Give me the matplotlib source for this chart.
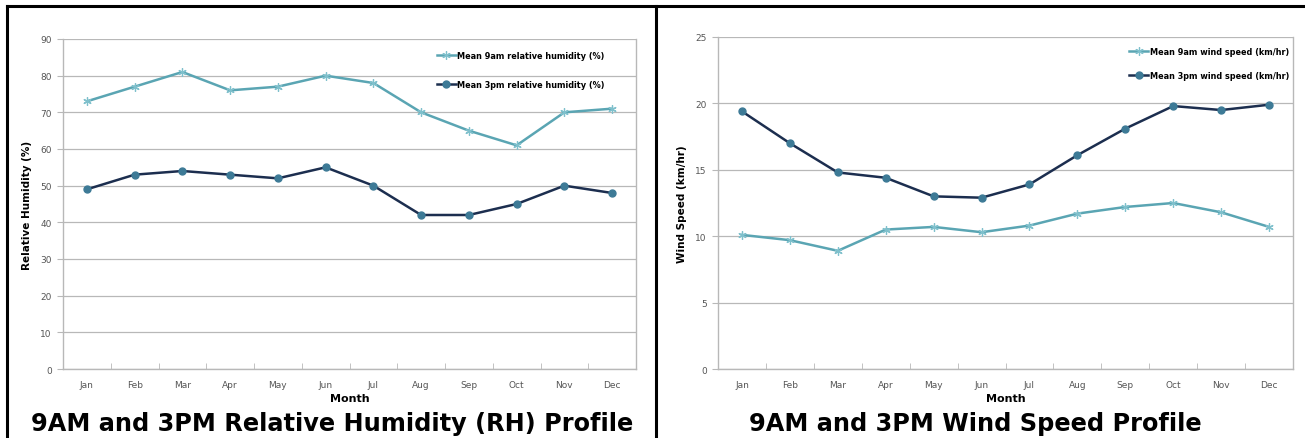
import matplotlib
matplotlib.use("Agg")
import matplotlib.pyplot as plt
from matplotlib.lines import Line2D

months = ["Jan", "Feb", "Mar", "Apr", "May", "Jun", "Jul", "Aug", "Sep", "Oct", "Nov", "Dec"]
rh_9am = [73, 77, 81, 76, 77, 80, 78, 70, 65, 61, 70, 71]
rh_3pm = [49, 53, 54, 53, 52, 55, 50, 42, 42, 45, 50, 48]
ws_9am = [10.1, 9.7, 8.9, 10.5, 10.7, 10.3, 10.8, 11.7, 12.2, 12.5, 11.8, 10.7]
ws_3pm = [19.4, 17.0, 14.8, 14.4, 13.0, 12.9, 13.9, 16.1, 18.1, 19.8, 19.5, 19.9]

rh_labels = ["Mean 9am relative humidity (%)", "Mean 3pm relative humidity (%)"]
ws_labels = ["Mean 9am wind speed (km/hr)", "Mean 3pm wind speed (km/hr)"]
titles = ["9AM and 3PM Relative Humidity (RH) Profile", "9AM and 3PM Wind Speed Profile"]

C9 = "#5aa5b3"
C3 = "#1c2e4f"
CM3 = "#3d7a96"
GRID = "#b8b8b8"
TICK = "#555555"

W, H = 1305, 439
fig = plt.figure(figsize=(W / 100, H / 100), dpi=100)

def frac(x0, y0, x1, y1):
    return [x0 / W, 1 - y1 / H, (x1 - x0) / W, (y1 - y0) / H]

def style(ax, ymax, ystep, ylabel):
    x = list(range(len(months)))
    ax.set_xlim(-0.5, len(months) - 0.5)
    ax.set_ylim(0, ymax)
    ax.set_yticks([v for v in range(0, ymax + 1, ystep)])
    ax.set_xticks(x)
    ax.set_xticklabels(months)
    ax.set_xticks([i - 0.5 for i in range(len(months) + 1)], minor=True)
    ax.tick_params(axis="x", which="major", length=0, labelsize=6.5, colors=TICK, pad=8)
    ax.tick_params(axis="x", which="minor", length=4, color=GRID, direction="in")
    ax.tick_params(axis="y", length=4, color=GRID, labelsize=6.5, labelcolor=TICK, pad=4)
    ax.grid(axis="y", color=GRID, lw=0.9)
    ax.set_axisbelow(True)
    for s in ["left", "bottom", "right"]:
        ax.spines[s].set_color(GRID)
        ax.spines[s].set_linewidth(1.0)
    ax.spines["top"].set_visible(False)
    ax.set_xlabel("Month", fontsize=8, fontweight="bold", labelpad=3)
    ax.set_ylabel(ylabel, fontsize=7.5, fontweight="bold", labelpad=6)

def draw(ax, a, b, labels, anchor, spacing):
    x = list(range(len(months)))
    l1, = ax.plot(x, a, color=C9, lw=1.8, marker=(6, 2, 0), ms=6, mew=0.9, mec="#7fc0cc", label=labels[0])
    l2, = ax.plot(x, b, color=C3, lw=1.8, marker="o", ms=5, mfc=CM3, mec=CM3, label=labels[1])
    ax.legend(handles=[l1, l2], loc="upper right", frameon=False,
              bbox_to_anchor=(anchor[0] / W, 1 - anchor[1] / H), bbox_transform=fig.transFigure,
              prop={"size": 5.9, "weight": "bold"}, labelspacing=spacing,
              handlelength=2.4, handletextpad=0.15, borderaxespad=0, borderpad=0)

ax1 = fig.add_axes(frac(63, 40, 636, 370))
draw(ax1, rh_9am, rh_3pm, rh_labels, (605, 52), 2.4)
style(ax1, 90, 10, "Relative Humidity (%)")

ax2 = fig.add_axes(frac(718, 38, 1293, 370))
draw(ax2, ws_9am, ws_3pm, ws_labels, (1289, 48), 1.85)
style(ax2, 25, 5, "Wind Speed (km/hr)")

fig.text(332 / W, 1 - 424 / H, titles[0], ha="center", va="center", fontsize=17.3, fontweight="bold")
fig.text(975 / W, 1 - 424 / H, titles[1], ha="center", va="center", fontsize=17.3, fontweight="bold")

# frame lines
for (x0, y0, x1, y1) in [(7, 7, 1305, 7), (7, 7, 7, 439), (656, 7, 656, 439)]:
    fig.add_artist(Line2D([x0 / W, x1 / W], [1 - y0 / H, 1 - y1 / H], color="black", lw=2.2))

fig.savefig("out.png", dpi=100)
